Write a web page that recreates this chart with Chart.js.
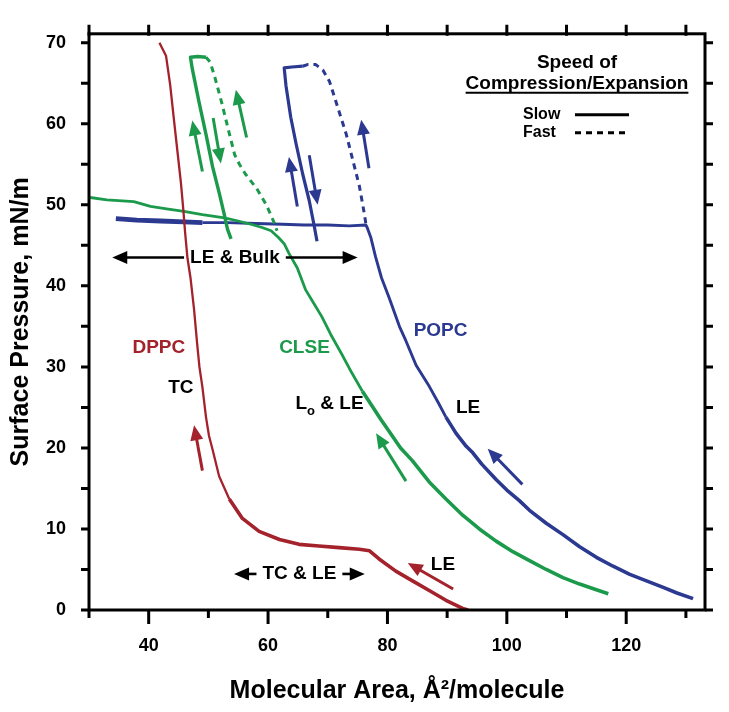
<!DOCTYPE html>
<html>
<head>
<meta charset="utf-8">
<script src="https://cdn.jsdelivr.net/npm/chart.js@4.4.1/dist/chart.umd.min.js"></script>
<style>
  html, body { margin: 0; padding: 0; background: #fff; }
</style>
</head>
<body>
<canvas id="isotherm" width="729" height="712"></canvas>
<script>
// Values: x = molecular area (A^2/molecule), y = surface pressure (mN/m)
var dppcX = [41.8, 42.9, 43.6, 44.2, 44.8, 45.4, 45.8, 46.1, 46.5, 47.0, 47.6, 48.1, 48.5, 49.0, 49.6, 50.1, 50.7, 51.8, 53.5, 55.7, 58.5, 61.9, 65.2, 68.5, 71.9, 75.3, 77.0, 78.6, 81.4, 84.2, 87.0, 89.8, 92.6, 93.5];
var dppcY = [70.0, 68.4, 64.8, 60.7, 56.7, 52.7, 49.4, 46.6, 43.4, 41.0, 37.1, 33.0, 30.0, 27.5, 23.8, 21.5, 19.8, 16.5, 13.7, 11.3, 9.7, 8.7, 8.1, 7.9, 7.7, 7.5, 7.3, 6.3, 4.8, 3.6, 2.4, 1.2, 0.2, 0.0];

var clseX = [30.2, 33.0, 37.5, 40.3, 43.0, 45.9, 49.0, 52.7, 55.0, 57.1, 59.0, 60.5, 61.7, 62.7, 63.5, 64.9, 66.3, 67.7, 69.0, 70.5, 72.4, 74.0, 75.8, 77.4, 78.9, 80.5, 82.2, 84.2, 87.0, 89.8, 92.6, 95.4, 98.2, 101.0, 103.8, 106.6, 109.4, 112.2, 115.0, 117.0];
var clseY = [50.9, 50.6, 50.4, 49.8, 49.5, 49.2, 48.8, 48.4, 48.0, 47.6, 47.2, 46.8, 46.0, 45.2, 44.0, 42.2, 39.5, 37.8, 36.2, 34.0, 31.5, 29.3, 27.0, 25.2, 23.5, 21.8, 20.0, 18.4, 15.8, 13.7, 11.7, 10.0, 8.5, 7.2, 6.1, 5.0, 4.0, 3.2, 2.5, 2.0];
var clseSlowX = [53.8, 53.2, 52.6, 51.8, 50.7, 49.6, 48.4, 47.3, 47.0, 48.2, 49.6];
var clseSlowY = [45.8, 47.0, 49.0, 51.5, 54.7, 58.7, 62.8, 66.8, 68.2, 68.3, 68.2];
var clseFastX = [49.6, 50.3, 51.1, 52.2, 53.3, 54.4, 55.2, 56.2, 58.1, 59.7, 60.9, 61.5];
var clseFastY = [68.2, 67.6, 65.7, 62.7, 59.4, 56.2, 55.0, 53.8, 52.0, 50.0, 48.0, 46.8];

var popcX = [131.2, 128.5, 126.2, 123.4, 120.6, 117.8, 115.0, 112.2, 109.4, 106.6, 103.8, 102.1, 100.0, 98.2, 95.8, 94.3, 93.2, 91.5, 89.8, 88.5, 87.0, 84.8, 83.1, 82.0, 80.3, 79.0, 78.0, 77.2, 76.6, 76.4, 73.6, 70.0, 66.0, 62.4, 58.0, 53.2, 49.0, 45.9, 42.0, 38.0, 34.5];
var popcY = [1.4, 2.1, 2.8, 3.6, 4.4, 5.4, 6.5, 7.8, 9.3, 10.7, 12.3, 13.5, 14.8, 16.1, 18.0, 19.4, 20.2, 21.8, 23.8, 25.6, 27.6, 30.2, 33.2, 35.0, 38.5, 41.0, 43.6, 46.0, 47.2, 47.5, 47.4, 47.5, 47.5, 47.6, 47.7, 47.8, 47.8, 47.9, 48.0, 48.1, 48.3];
var popcSlowX = [68.2, 67.7, 66.9, 65.8, 64.7, 63.8, 63.0, 62.7, 64.0, 65.8];
var popcSlowY = [45.5, 47.5, 50.5, 53.8, 57.5, 60.8, 64.7, 66.9, 67.0, 67.1];
var popcFastX = [65.8, 66.6, 68.0, 69.2, 70.3, 71.9, 73.1, 74.2, 75.3, 76.1, 76.4];
var popcFastY = [67.1, 67.3, 67.3, 66.6, 65.2, 61.5, 58.7, 55.5, 52.3, 49.0, 47.6];

var xTickLabels = [40, 60, 80, 100, 120];
var yTickLabels = [0, 10, 20, 30, 40, 50, 60, 70];

var RED = '#a3222b';
var GREEN = '#1c9a4c';
var BLUE = '#2b3990';
var FONT = '"Liberation Sans", Arial, sans-serif';

function pts(xs, ys) {
  return xs.map(function (x, i) { return { x: x, y: ys[i] }; });
}

// width: plain number, or function(segmentCtx) for the noisy (thicker looking) parts
function curve(xs, ys, color, dashed, width) {
  var ds = {
    data: pts(xs, ys),
    showLine: true,
    borderColor: color,
    backgroundColor: color,
    borderWidth: dashed ? 3 : 2.8,
    borderDash: dashed ? [6, 5] : [],
    borderJoinStyle: 'round',
    pointRadius: 0,
    tension: 0
  };
  if (typeof width === 'function') ds.segment = { borderWidth: width };
  else if (width) ds.borderWidth = width;
  return ds;
}

// arrows, head at "to" (data units)
var arrows = [
  { from: [49.0, 17.2], to: [47.6, 22.8], color: RED },
  { from: [91.0, 2.6], to: [83.4, 5.8], color: RED },
  { from: [83.1, 15.9], to: [78.1, 21.8], color: GREEN },
  { from: [102.6, 15.5], to: [96.8, 19.9], color: BLUE },
  { from: [49.0, 54.1], to: [47.3, 60.4], color: GREEN },
  { from: [50.8, 60.7], to: [52.1, 55.1], color: GREEN },
  { from: [56.4, 58.3], to: [54.6, 64.2], color: GREEN },
  { from: [64.9, 49.8], to: [63.5, 55.9], color: BLUE },
  { from: [66.9, 56.1], to: [68.3, 50.0], color: BLUE },
  { from: [76.9, 54.5], to: [75.6, 60.5], color: BLUE }
];

var labels = [
  { text: 'DPPC', x: 41.7, y: 32.3, color: RED },
  { text: 'TC', x: 45.4, y: 27.4, color: '#000' },
  { text: 'CLSE', x: 66.1, y: 32.3, color: GREEN },
  { text: 'POPC', x: 88.9, y: 34.5, color: BLUE },
  { text: 'LE', x: 93.5, y: 25.0, color: '#000' },
  { text: 'LE', x: 89.3, y: 5.6, color: '#000' }
];

var spans = [
  { text: 'LE & Bulk', x1: 33.9, x2: 75.0, y: 43.5 },
  { text: 'TC & LE', x1: 54.3, x2: 76.2, y: 4.45 }
];

function arrowHead(ctx, x1, y1, x2, y2, len, half) {
  var a = Math.atan2(y2 - y1, x2 - x1);
  ctx.beginPath();
  ctx.moveTo(x2, y2);
  ctx.lineTo(x2 - len * Math.cos(a) + half * Math.sin(a), y2 - len * Math.sin(a) - half * Math.cos(a));
  ctx.lineTo(x2 - len * Math.cos(a) - half * Math.sin(a), y2 - len * Math.sin(a) + half * Math.cos(a));
  ctx.closePath();
  ctx.fill();
}

function arrow(ctx, x1, y1, x2, y2, color, lw, len, half) {
  var a = Math.atan2(y2 - y1, x2 - x1);
  ctx.save();
  ctx.strokeStyle = color;
  ctx.fillStyle = color;
  ctx.lineWidth = lw;
  ctx.beginPath();
  ctx.moveTo(x1, y1);
  ctx.lineTo(x2 - (len - 2) * Math.cos(a), y2 - (len - 2) * Math.sin(a));
  ctx.stroke();
  arrowHead(ctx, x1, y1, x2, y2, len, half);
  ctx.restore();
}

var extras = {
  id: 'extras',
  afterDatasetsDraw: function (chart) {
    var ctx = chart.ctx;
    var ca = chart.chartArea;
    var xs = chart.scales.x, ys = chart.scales.y;

    ctx.save();
    // frame
    ctx.strokeStyle = '#000';
    ctx.lineWidth = 3;
    ctx.strokeRect(ca.left, ca.top, ca.right - ca.left, ca.bottom - ca.top);
    // ticks
    ctx.beginPath();
    xs.ticks.forEach(function (t) {
      var px = xs.getPixelForValue(t.value);
      var major = xTickLabels.indexOf(t.value) >= 0;
      ctx.moveTo(px, ca.bottom);
      ctx.lineTo(px, ca.bottom + (major ? 14 : 8));
      ctx.moveTo(px, ca.top + 2);
      ctx.lineTo(px, ca.top - 9);
    });
    ys.ticks.forEach(function (t) {
      var py = ys.getPixelForValue(t.value);
      ctx.moveTo(ca.left, py);
      ctx.lineTo(ca.left - 8, py);
      ctx.moveTo(ca.right, py);
      ctx.lineTo(ca.right + 8, py);
    });
    ctx.stroke();

    arrows.forEach(function (a) {
      arrow(ctx, xs.getPixelForValue(a.from[0]), ys.getPixelForValue(a.from[1]),
        xs.getPixelForValue(a.to[0]), ys.getPixelForValue(a.to[1]), a.color, 3, 15, 6.5);
    });

    ctx.textAlign = 'center';
    ctx.textBaseline = 'middle';
    ctx.font = 'bold 19px ' + FONT;
    labels.forEach(function (l) {
      ctx.fillStyle = l.color;
      ctx.fillText(l.text, xs.getPixelForValue(l.x), ys.getPixelForValue(l.y));
    });

    // L_o & LE
    var lx = xs.getPixelForValue(70.3), ly = ys.getPixelForValue(25.4);
    ctx.fillStyle = '#000';
    ctx.textAlign = 'left';
    var wL = ctx.measureText('L').width;
    var wRest = ctx.measureText(' & LE').width;
    ctx.font = 'bold 13px ' + FONT;
    var wo = ctx.measureText('o').width;
    var start = lx - (wL + wo + wRest) / 2;
    ctx.font = 'bold 19px ' + FONT;
    ctx.fillText('L', start, ly);
    ctx.fillText(' & LE', start + wL + wo, ly);
    ctx.font = 'bold 13px ' + FONT;
    ctx.fillText('o', start + wL, ly + 7);

    ctx.font = 'bold 19px ' + FONT;
    spans.forEach(function (s) {
      var a = xs.getPixelForValue(s.x1), b = xs.getPixelForValue(s.x2), y = ys.getPixelForValue(s.y);
      var c = (a + b) / 2;
      var w = ctx.measureText(s.text).width;
      ctx.fillStyle = '#000';
      ctx.textAlign = 'center';
      ctx.fillText(s.text, c, y);
      arrow(ctx, c - w / 2 - 6, y, a, y, '#000', 2.6, 15, 6.5);
      arrow(ctx, c + w / 2 + 6, y, b, y, '#000', 2.6, 15, 6.5);
    });

    // line-style key
    var cx = ca.right - 128;
    ctx.fillStyle = '#000';
    ctx.textAlign = 'center';
    ctx.font = 'bold 19px ' + FONT;
    ctx.fillText('Speed of', cx, ca.top + 29);
    ctx.fillText('Compression/Expansion', cx, ca.top + 50);
    var uw = ctx.measureText('Compression/Expansion').width;
    ctx.lineWidth = 2;
    ctx.beginPath();
    ctx.moveTo(cx - uw / 2, ca.top + 59);
    ctx.lineTo(cx + uw / 2, ca.top + 59);
    ctx.stroke();
    ctx.font = 'bold 16px ' + FONT;
    ctx.textAlign = 'left';
    ctx.fillText('Slow', ca.right - 182, ca.top + 81);
    ctx.fillText('Fast', ca.right - 182, ca.top + 99);
    ctx.lineWidth = 3;
    ctx.beginPath();
    ctx.moveTo(ca.right - 130, ca.top + 81);
    ctx.lineTo(ca.right - 76, ca.top + 81);
    ctx.stroke();
    ctx.setLineDash([6, 5]);
    ctx.beginPath();
    ctx.moveTo(ca.right - 130, ca.top + 99);
    ctx.lineTo(ca.right - 78, ca.top + 99);
    ctx.stroke();
    ctx.setLineDash([]);
    ctx.restore();
  }
};

var config = {
  type: 'scatter',
  data: {
    datasets: [
      curve(dppcX, dppcY, RED, false, function (c) { return c.p0.parsed.y > 15 ? 2.3 : 3.6; }),
      curve(clseX, clseY, GREEN, false, function (c) { return c.p0.parsed.y > 28 ? 2.8 : 3.6; }),
      curve(clseSlowX, clseSlowY, GREEN, false, 3.4),
      curve(clseFastX, clseFastY, GREEN, true),
      curve(popcX, popcY, BLUE, false, function (c) {
        var y = c.p0.parsed.y, x = c.p0.parsed.x;
        if (y > 46 && x < 52) return 4.8;
        return y < 22 ? 3.6 : 2.9;
      }),
      curve(popcSlowX, popcSlowY, BLUE, false, 3.2),
      curve(popcFastX, popcFastY, BLUE, true)
    ]
  },
  options: {
    responsive: false,
    animation: false,
    layout: { padding: 0 },
    plugins: { legend: { display: false }, tooltip: { enabled: false } },
    scales: {
      x: {
        type: 'linear', position: 'bottom', min: 30, max: 133.2,
        grid: { display: false, drawTicks: false }, border: { display: false },
        ticks: {
          stepSize: 10, includeBounds: false, autoSkip: false, maxRotation: 0, padding: 25,
          color: '#000', font: { family: FONT, size: 18, weight: 'bold' },
          callback: function (v) { return xTickLabels.indexOf(v) >= 0 ? String(v) : ''; }
        },
        title: {
          display: true, text: 'Molecular Area, \u00C5\u00B2/molecule', color: '#000',
          font: { family: FONT, size: 25, weight: 'bold' }, padding: { top: 0, bottom: 6 }
        },
        afterFit: function (s) { s.height = 102; }
      },
      x2: {
        type: 'linear', position: 'top', min: 30, max: 133.2,
        grid: { display: false, drawTicks: false }, border: { display: false },
        ticks: { display: false },
        afterFit: function (s) { s.height = 23; }
      },
      y: {
        type: 'linear', position: 'left', min: 0, max: 71.1,
        grid: { display: false, drawTicks: false }, border: { display: false },
        ticks: {
          stepSize: 5, includeBounds: false, autoSkip: false, padding: 23,
          color: '#000', font: { family: FONT, size: 18, weight: 'bold' },
          callback: function (v) { return yTickLabels.indexOf(v) >= 0 ? String(v) : ''; }
        },
        title: {
          display: true, text: 'Surface Pressure, mN/m', color: '#000',
          font: { family: FONT, size: 25, weight: 'bold' }, padding: { top: 6, bottom: 0 }
        },
        afterFit: function (s) { s.width = 89; }
      },
      y2: {
        type: 'linear', position: 'right', min: 0, max: 71.1,
        grid: { display: false, drawTicks: false }, border: { display: false },
        ticks: { display: false },
        afterFit: function (s) { s.width = 24; }
      }
    }
  },
  plugins: [extras]
};

var chart = new Chart(document.getElementById('isotherm'), config);
</script>
</body>
</html>
